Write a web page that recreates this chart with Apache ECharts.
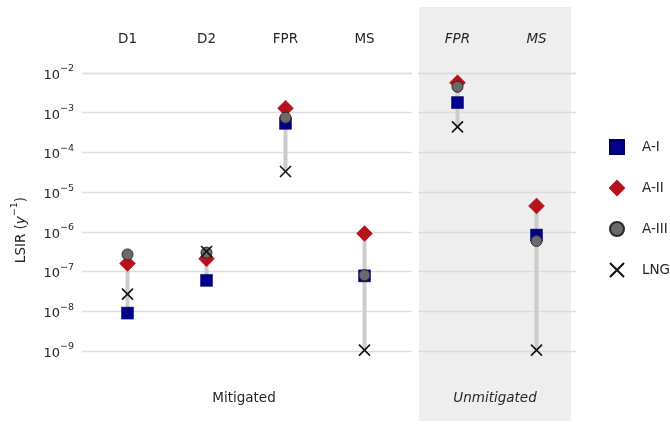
<!DOCTYPE html>
<html>
<head>
<meta charset="utf-8">
<script src="https://cdn.jsdelivr.net/npm/echarts@6/dist/echarts.min.js"></script>
<style>
html,body{margin:0;padding:0;background:#fff;}
#chart{width:670px;height:425px;}
</style>
</head>
<body>
<div id="chart"></div>
<script>
const mitCats = ['D1', 'D2', 'FPR', 'MS'];
const unmitCats = ['FPR', 'MS'];
const seriesNames = ['A-I', 'A-II', 'A-III', 'LNG'];
const mitAI   = [9.0e-9, 6.0e-8, 5.4e-4, 7.8e-8];
const mitAII  = [1.6e-7, 2.1e-7, 1.3e-3, 9.1e-7];
const mitAIII = [2.7e-7, 3.0e-7, 7.5e-4, 8.1e-8];
const mitLNG  = [2.7e-8, 3.2e-7, 3.3e-5, 1.05e-9];
const unmitAI   = [1.8e-3, 8.3e-7];
const unmitAII  = [5.7e-3, 4.5e-6];
const unmitAIII = [4.5e-3, 5.9e-7];
const unmitLNG  = [4.4e-4, 1.05e-9];

const FONT = 'DejaVu Sans';
const TXT = '#262626';
const mitGroups = [mitAI, mitAII, mitAIII, mitLNG];
const unmitGroups = [unmitAI, unmitAII, unmitAIII, unmitLNG];

function ranges(groups, n) {
  const out = [];
  for (let i = 0; i < n; i++) {
    const vals = groups.map(g => g[i]);
    out.push([i, Math.min(...vals), Math.max(...vals)]);
  }
  return out;
}

const styles = [
  {symbol: 'rect', symbolSize: 12, itemStyle: {opacity: 1, color: '#00008b', borderColor: '#00006a', borderWidth: 0.5}},
  {symbol: 'diamond', symbolSize: 16, itemStyle: {opacity: 1, color: '#b5121b', borderColor: '#b5121b', borderWidth: 0.5}},
  {symbol: 'circle', symbolSize: 11, itemStyle: {opacity: 1, color: '#6a6a6a', borderColor: '#2a2a2a', borderWidth: 1}},
  {symbol: 'path://M0,0L10,10M10,0L0,10', symbolSize: 11, itemStyle: {opacity: 1, color: 'rgba(0,0,0,0)', borderColor: '#111111', borderWidth: 1.6}}
];

function rangeSeries(xi, yi, data) {
  return {
    type: 'custom', xAxisIndex: xi, yAxisIndex: yi, silent: true, z: 1,
    data: data,
    encode: {x: 0, y: [1, 2]},
    renderItem: function (params, api) {
      const p1 = api.coord([api.value(0), api.value(1)]);
      const p2 = api.coord([api.value(0), api.value(2)]);
      return {type: 'line', shape: {x1: p1[0], y1: p1[1], x2: p2[0], y2: p2[1]},
              style: {stroke: '#cccccc', lineWidth: 4}};
    }
  };
}

const series = [
  rangeSeries(1, 1, ranges(mitGroups, mitCats.length)),
  rangeSeries(2, 2, ranges(unmitGroups, unmitCats.length))
];
seriesNames.forEach((name, k) => {
  series.push(Object.assign({name: name, type: 'scatter', xAxisIndex: 1, yAxisIndex: 1, z: 3 + k,
    data: mitGroups[k]}, styles[k]));
  series.push(Object.assign({name: name, type: 'scatter', xAxisIndex: 2, yAxisIndex: 2, z: 3 + k,
    data: unmitGroups[k]}, styles[k]));
});

const logAxisBase = {type: 'log', logBase: 10, min: 1e-9, max: 1e-2, interval: 1,
  axisLine: {show: false}, axisTick: {show: false}};

const option = {
  animation: false,
  backgroundColor: '#ffffff',
  textStyle: {fontFamily: FONT},
  grid: [
    {left: 82, width: 330, top: 73, height: 278},
    {left: 88, width: 316, top: 73, height: 278},
    {left: 418, width: 158, top: 73, height: 278}
  ],
  xAxis: [
    {gridIndex: 0, type: 'value', min: 0, max: 1, show: false},
    {gridIndex: 1, type: 'category', data: mitCats, position: 'top',
     axisLine: {show: false}, axisTick: {show: false},
     axisLabel: {margin: 27, fontSize: 13.5, color: TXT, fontFamily: FONT}},
    {gridIndex: 2, type: 'category', data: unmitCats, position: 'top',
     axisLine: {show: false}, axisTick: {show: false},
     axisLabel: {margin: 27, fontSize: 13.5, color: TXT, fontFamily: FONT, fontStyle: 'italic'}}
  ],
  yAxis: [
    Object.assign({gridIndex: 0}, logAxisBase, {
      splitLine: {show: true, lineStyle: {color: '#dedede', width: 1.3}},
      axisLabel: {margin: 8, color: TXT, fontFamily: FONT,
        formatter: function (v) {
          const e = Math.round(Math.log10(v));
          return '{b|10}{s|\u2212' + Math.abs(e) + '}';
        },
        rich: {
          b: {fontSize: 13, color: TXT, fontFamily: FONT, lineHeight: 18, verticalAlign: 'bottom'},
          s: {fontSize: 9.5, color: TXT, fontFamily: FONT, lineHeight: 18, verticalAlign: 'top'}
        }}
    }),
    Object.assign({gridIndex: 1}, logAxisBase, {show: false}),
    Object.assign({gridIndex: 2}, logAxisBase, {
      axisLabel: {show: false},
      splitLine: {show: true, lineStyle: {color: '#dcdcdc', width: 1.3}}})
  ],
  legend: {
    data: seriesNames, orient: 'vertical', left: 609, top: 139, padding: 0,
    itemWidth: 14, itemHeight: 14, itemGap: 25,
    textStyle: {fontSize: 13.5, color: TXT, fontFamily: FONT, padding: [0, 0, 0, 13]}
  },
  graphic: [
    {type: 'rect', z: -100, silent: true, shape: {x: 419, y: 7, width: 152, height: 414},
     style: {fill: '#eeeeee'}},
    {type: 'text', x: 244, y: 398, silent: true,
     style: {text: 'Mitigated', fill: TXT, font: '13.5px "DejaVu Sans"', align: 'center', verticalAlign: 'middle'}},
    {type: 'text', x: 495, y: 398, silent: true,
     style: {text: 'Unmitigated', fill: TXT, font: 'italic 13.5px "DejaVu Sans"', align: 'center', verticalAlign: 'middle'}},
    {type: 'text', x: 19, y: 230, rotation: Math.PI / 2, silent: true,
     style: {text: '{a|LSIR (}{i|y}{s|\u22121}{a|)}', align: 'center', verticalAlign: 'middle',
       rich: {
         a: {fontSize: 13.5, fill: TXT, fontFamily: FONT, lineHeight: 18, verticalAlign: 'bottom'},
         i: {fontSize: 13.5, fill: TXT, fontFamily: FONT, fontStyle: 'italic', lineHeight: 18, verticalAlign: 'bottom'},
         s: {fontSize: 9.5, fill: TXT, fontFamily: FONT, lineHeight: 18, verticalAlign: 'top'}
       }}}
  ],
  series: series
};

const chart = echarts.init(document.getElementById('chart'), null, {renderer: 'canvas'});
chart.setOption(option);
</script>
</body>
</html>
